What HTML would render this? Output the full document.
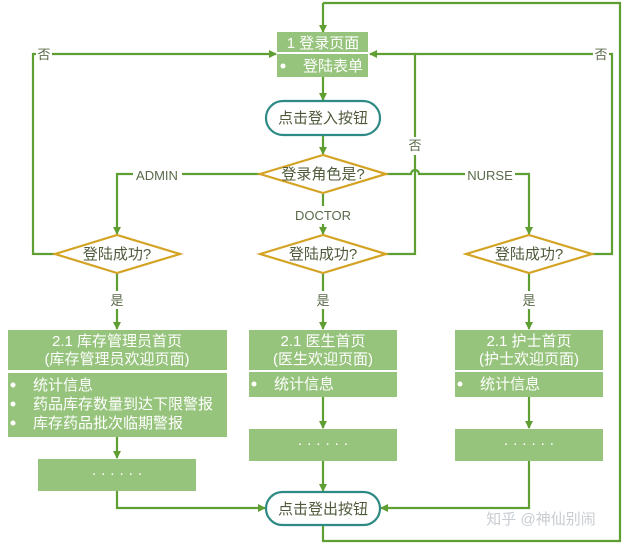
<!DOCTYPE html>
<html><head><meta charset="utf-8"><style>
html,body{margin:0;padding:0;background:#fff;}
svg{display:block;font-family:"Liberation Sans","Noto Sans CJK SC",sans-serif;}
</style></head><body>
<svg width="626" height="544" viewBox="0 0 626 544">
<defs><marker id="a" markerWidth="8" markerHeight="8" refX="7" refY="4" orient="auto" markerUnits="userSpaceOnUse"><path d="M0,0 L8,4 L0,8 z" fill="#5e9e32"/></marker></defs>
<g fill="none" stroke="#5e9e32" stroke-width="2.2">
<path d="M323 3 H620 V541 H323 V525"/>
<path d="M323 3 V32" marker-end="url(#a)"/>
<path d="M323 77 V100" marker-end="url(#a)"/>
<path d="M323 135 V154" marker-end="url(#a)"/>
<path d="M260 174 H117 V234" marker-end="url(#a)"/>
<path d="M386 174 H411 A4 4 0 0 1 419 174 H529 V234" marker-end="url(#a)"/>
<path d="M323 194 V234" marker-end="url(#a)"/>
<path d="M55 254 H33 V54 H276" marker-end="url(#a)"/>
<path d="M386 254 H415 V54 H370" marker-end="url(#a)"/>
<path d="M592 254 H612 V54 H415"/>
<path d="M117 273 V329" marker-end="url(#a)"/>
<path d="M323 273 V329" marker-end="url(#a)"/>
<path d="M529 273 V329" marker-end="url(#a)"/>
<path d="M117 437 V458" marker-end="url(#a)"/>
<path d="M323 397 V428" marker-end="url(#a)"/>
<path d="M529 397 V428" marker-end="url(#a)"/>
<path d="M117 491 V508 H265" marker-end="url(#a)"/>
<path d="M323 461 V491" marker-end="url(#a)"/>
<path d="M529 461 V508 H381" marker-end="url(#a)"/>
</g>
<g fill="#fff">
<rect x="133" y="167" width="49" height="16"/><rect x="465" y="167" width="50" height="16"/>
<rect x="292" y="206" width="62" height="18"/><rect x="36" y="45" width="16" height="18"/>
<rect x="593" y="45" width="16" height="18"/><rect x="407" y="137" width="16" height="18"/>
<rect x="109" y="291" width="16" height="18"/><rect x="315" y="291" width="16" height="18"/><rect x="521" y="291" width="16" height="18"/>
</g>
<g fill="#97c47c">
<rect x="277" y="32" width="91" height="20"/><rect x="277" y="54" width="91" height="23"/>
<rect x="8" y="330" width="219" height="40"/><rect x="8" y="373" width="219" height="64"/>
<rect x="249" y="330" width="148" height="40"/><rect x="249" y="372" width="148" height="25"/>
<rect x="455" y="330" width="148" height="40"/><rect x="455" y="372" width="148" height="25"/>
<rect x="38" y="459" width="158" height="32"/><rect x="249" y="429" width="148" height="32"/><rect x="455" y="429" width="148" height="32"/>
</g>
<g fill="#fff" stroke="#d4a324" stroke-width="2.2">
<polygon points="260,174 323,155 386,174 323,193"/>
<polygon points="55,254 117,235 180,254 117,273"/>
<polygon points="260,254 323,235 386,254 323,273"/>
<polygon points="466,254 529,235 592,254 529,273"/>
</g>
<g fill="#fff" stroke="#2e8a84" stroke-width="2.2">
<rect x="266" y="101" width="114" height="34" rx="17"/>
<rect x="266" y="492" width="114" height="33" rx="16.5"/>
</g>
<g font-size="15" fill="#4f5a3c" text-anchor="middle">
<text x="323" y="123">点击登入按钮</text>
<text x="323" y="514">点击登出按钮</text>
<text x="323" y="179">登录角色是?</text>
<text x="117" y="259">登陆成功?</text>
<text x="323" y="259">登陆成功?</text>
<text x="529" y="259">登陆成功?</text>
</g>
<g font-size="13" fill="#5a6a4a" text-anchor="middle">
<text x="157" y="180">ADMIN</text>
<text x="490" y="180">NURSE</text>
<text x="323" y="220">DOCTOR</text>
<text x="44" y="59">否</text><text x="601" y="59">否</text><text x="415" y="150">否</text>
<text x="117" y="305">是</text><text x="323" y="305">是</text><text x="529" y="305">是</text>
</g>
<g font-size="15" fill="#fff">
<text x="323" y="48" text-anchor="middle">1 登录页面</text>
<text x="303" y="71">登陆表单</text><circle cx="283" cy="66" r="2.5"/>
<text x="117" y="346" text-anchor="middle">2.1 库存管理员首页</text>
<text x="117" y="364" text-anchor="middle">(库存管理员欢迎页面)</text>
<circle cx="13" cy="385" r="2.5"/><text x="33" y="390">统计信息</text>
<circle cx="13" cy="404" r="2.5"/><text x="33" y="409">药品库存数量到达下限警报</text>
<circle cx="13" cy="423" r="2.5"/><text x="33" y="428">库存药品批次临期警报</text>
<text x="323" y="346" text-anchor="middle">2.1 医生首页</text>
<text x="323" y="364" text-anchor="middle">(医生欢迎页面)</text>
<circle cx="254" cy="384" r="2.5"/><text x="274" y="389">统计信息</text>
<text x="529" y="346" text-anchor="middle">2.1 护士首页</text>
<text x="529" y="364" text-anchor="middle">(护士欢迎页面)</text>
<circle cx="460" cy="384" r="2.5"/><text x="480" y="389">统计信息</text>
<text x="117" y="478" text-anchor="middle">· · · · · ·</text>
<text x="323" y="448" text-anchor="middle">· · · · · ·</text>
<text x="529" y="448" text-anchor="middle">· · · · · ·</text>
</g>
<text x="541" y="524" font-size="15" fill="#c8cdd2" text-anchor="middle">知乎 @神仙别闹</text>
</svg>
</body></html>
